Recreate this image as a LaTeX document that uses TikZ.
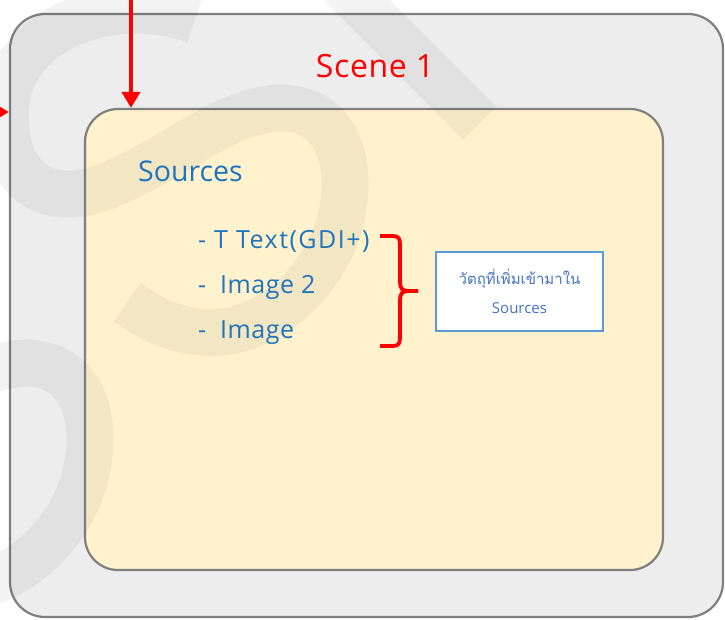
\documentclass[tikz,border=0pt]{standalone}
\usepackage{fontspec}
\setmainfont{Open Sans}
\newfontfamily\thaifont[Script=Thai]{Loma}
\usetikzlibrary{arrows.meta}
\definecolor{boxgray}{HTML}{EDEDED}
\definecolor{edgegray}{HTML}{7F7F7F}
\definecolor{srcyellow}{HTML}{FFF2CC}
\definecolor{textblue}{HTML}{1F74BE}
\definecolor{noteblue}{HTML}{4472C4}
\definecolor{noteedge}{HTML}{5B9BD5}
\definecolor{arrowred}{HTML}{FF0000}
\newcommand{\wmSpath}{(195,20) .. controls (110,-10) and (5,30) .. (5,115) .. controls (5,180) and (45,205) .. (95,190) .. controls (160,170) and (220,110) .. (280,108) .. controls (330,108) and (350,150) .. (344,200) .. controls (338,270) and (270,340) .. (200,332) .. controls (170,329) and (150,318) .. (127,302)}
\begin{document}
\begin{tikzpicture}[x=1pt,y=-1pt,
  scenebox/.style={draw=edgegray, line width=2.2pt, fill=boxgray, rounded corners=35pt, inner sep=0pt},
  srcbox/.style={draw=edgegray, line width=2.2pt, fill=srcyellow, rounded corners=33pt, inner sep=0pt},
  wm/.style={draw=black, draw opacity=0.047, line width=47pt, line cap=butt},
  redarrow/.style={draw=arrowred, line width=4.5pt, -{Triangle[length=16pt,width=18pt]}},
  bracestyle/.style={draw=arrowred, line width=3.8pt, line cap=butt},
  notebox/.style={draw=noteedge, line width=2pt, fill=white, minimum width=167pt, minimum height=79pt, inner sep=0pt, align=center, text=noteblue, font=\fontsize{15}{29}\selectfont},
  titletext/.style={text=arrowred, font=\fontsize{32}{36}\selectfont\addfontfeature{LetterSpace=2}, inner sep=0pt},
  headtext/.style={text=textblue, font=\fontsize{28.5}{32}\selectfont, inner sep=0pt},
  itemtext/.style={text=textblue, font=\fontsize{25}{28}\selectfont, inner sep=0pt}
]
\useasboundingbox (0,0) rectangle (725,620);
\clip (0,0) rectangle (725,620);
% boxes
\node[scenebox, minimum width=713pt, minimum height=603pt] (scene) at (366.5,315.5) {};
\node[srcbox, minimum width=578pt, minimum height=461pt] (src) at (374,339.5) {};
% watermark
\path[wm] \wmSpath;
\begin{scope}[shift={(-255,255)}]
\path[wm] \wmSpath;
\end{scope}
\path[wm] (330,-27) -- (480,123);
% arrows
\coordinate (topin) at (131,-10);
\coordinate (leftin) at (-40,112);
\draw[redarrow] (topin) -- (src.north -| topin);
\draw[redarrow] (leftin) -- (scene.west |- leftin);
% texts
\node[titletext, anchor=base] (title) at (375,78) {Scene 1};
\node[headtext, anchor=base west] (heading) at (138,182) {Sources};
\node[itemtext, anchor=base west] (item1) at (198,248) {\addfontfeature{LetterSpace=6}- T Text(GDI+)};
\node[itemtext, anchor=base west] (item2) at (198,293) {\addfontfeature{LetterSpace=2}-~ Image 2};
\node[itemtext, anchor=base west] (item3) at (198,338) {\addfontfeature{LetterSpace=2}-~ Image};
% brace
\coordinate (bracetop) at (380,236);
\coordinate (bracebot) at (380,346);
\coordinate (bracetip) at (418,291);
\draw[bracestyle] (bracetop) -- (393,236) .. controls (399,236) and (400,239) .. (400,245) -- (400,282) .. controls (400,288) and (402,291) .. (408,291) -- (bracetip);
\draw[bracestyle] (bracetip) -- (408,291) .. controls (402,291) and (400,294) .. (400,300) -- (400,337) .. controls (400,343) and (399,346) .. (393,346) -- (bracebot);
% note
\node[notebox] (note) at (519.5,291.5) {{\thaifont วัตถุที่เพิ่มเข้ามาใน}\\Sources};
\end{tikzpicture}
\end{document}
